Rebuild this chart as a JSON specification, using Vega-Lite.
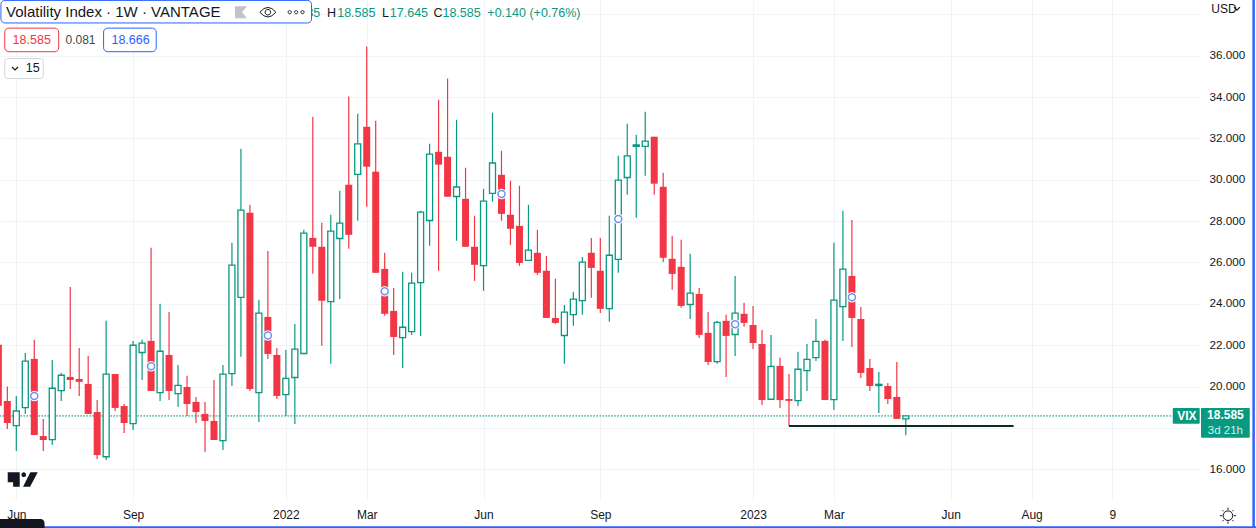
{
"$schema":"https://vega.github.io/schema/vega-lite/v6.json",
"width":1201,"height":501,
"autosize":{"type":"none"},
"padding":{"left":0,"top":0,"right":55,"bottom":27},
"background":"white",
"config":{"view":{"stroke":null},"font":"Liberation Sans","text":{"font":"Liberation Sans"}},
"datasets":{"candles":[
{"d":"2021-05-24","o":22.02,"h":22.02,"l":19.08,"c":19.08},
{"d":"2021-05-31","o":19.31,"h":20.0,"l":17.95,"c":18.24},
{"d":"2021-06-07","o":18.11,"h":19.55,"l":16.89,"c":18.82},
{"d":"2021-06-14","o":18.98,"h":21.63,"l":18.68,"c":21.23},
{"d":"2021-06-21","o":21.34,"h":22.26,"l":17.66,"c":17.66},
{"d":"2021-06-28","o":17.61,"h":18.44,"l":16.89,"c":17.42},
{"d":"2021-07-05","o":17.44,"h":21.29,"l":17.18,"c":19.92},
{"d":"2021-07-12","o":19.81,"h":20.66,"l":19.31,"c":20.55},
{"d":"2021-07-19","o":20.47,"h":24.82,"l":19.89,"c":20.32},
{"d":"2021-07-26","o":20.37,"h":21.87,"l":19.55,"c":20.23},
{"d":"2021-08-02","o":20.13,"h":21.48,"l":18.68,"c":18.68},
{"d":"2021-08-09","o":18.77,"h":19.35,"l":16.5,"c":16.69},
{"d":"2021-08-16","o":16.61,"h":23.18,"l":16.45,"c":20.6},
{"d":"2021-08-23","o":20.61,"h":20.61,"l":18.82,"c":18.97},
{"d":"2021-08-30","o":19.06,"h":19.16,"l":17.76,"c":18.24},
{"d":"2021-09-06","o":18.21,"h":22.21,"l":17.9,"c":22.0},
{"d":"2021-09-13","o":21.65,"h":22.26,"l":20.32,"c":22.1},
{"d":"2021-09-20","o":22.21,"h":26.71,"l":19.79,"c":19.79},
{"d":"2021-09-27","o":19.71,"h":24.0,"l":19.31,"c":21.71},
{"d":"2021-10-04","o":21.53,"h":23.61,"l":19.35,"c":19.79},
{"d":"2021-10-11","o":19.66,"h":21.05,"l":19.02,"c":20.06},
{"d":"2021-10-18","o":19.98,"h":20.52,"l":18.58,"c":19.16},
{"d":"2021-10-25","o":19.26,"h":19.5,"l":18.24,"c":18.77},
{"d":"2021-11-01","o":18.68,"h":19.26,"l":16.84,"c":18.34},
{"d":"2021-11-08","o":18.34,"h":20.32,"l":17.42,"c":17.42},
{"d":"2021-11-15","o":17.39,"h":21.05,"l":16.94,"c":20.6},
{"d":"2021-11-22","o":20.63,"h":26.95,"l":20.03,"c":25.87},
{"d":"2021-11-29","o":24.31,"h":31.5,"l":21.44,"c":28.53},
{"d":"2021-12-06","o":28.4,"h":28.79,"l":19.79,"c":19.89},
{"d":"2021-12-13","o":19.71,"h":24.19,"l":18.29,"c":23.55},
{"d":"2021-12-20","o":23.37,"h":26.56,"l":21.34,"c":21.58},
{"d":"2021-12-27","o":21.53,"h":21.87,"l":19.4,"c":19.55},
{"d":"2022-01-03","o":19.61,"h":21.77,"l":18.58,"c":20.4},
{"d":"2022-01-10","o":20.44,"h":23.03,"l":18.19,"c":21.81},
{"d":"2022-01-17","o":21.6,"h":27.58,"l":21.6,"c":27.42},
{"d":"2022-01-24","o":27.19,"h":33.05,"l":25.45,"c":26.76},
{"d":"2022-01-31","o":26.76,"h":27.92,"l":21.97,"c":24.15},
{"d":"2022-02-07","o":24.11,"h":28.31,"l":21.1,"c":27.52},
{"d":"2022-02-14","o":27.16,"h":29.47,"l":24.24,"c":27.9},
{"d":"2022-02-21","o":29.76,"h":34.02,"l":26.66,"c":27.34},
{"d":"2022-02-28","o":30.26,"h":33.19,"l":28.02,"c":31.73},
{"d":"2022-03-07","o":32.56,"h":36.44,"l":28.69,"c":30.63},
{"d":"2022-03-14","o":30.39,"h":32.85,"l":25.5,"c":25.5},
{"d":"2022-03-21","o":25.69,"h":26.47,"l":23.42,"c":23.52},
{"d":"2022-03-28","o":23.66,"h":24.77,"l":21.53,"c":22.4},
{"d":"2022-04-04","o":22.37,"h":25.55,"l":20.9,"c":22.87},
{"d":"2022-04-11","o":22.66,"h":25.5,"l":22.5,"c":25.0},
{"d":"2022-04-18","o":25.03,"h":28.5,"l":22.45,"c":28.44},
{"d":"2022-04-25","o":28.03,"h":31.74,"l":26.81,"c":31.24},
{"d":"2022-05-02","o":31.35,"h":33.87,"l":25.6,"c":30.73},
{"d":"2022-05-09","o":31.11,"h":34.89,"l":29.18,"c":29.18},
{"d":"2022-05-16","o":29.19,"h":32.9,"l":27.05,"c":29.65},
{"d":"2022-05-23","o":29.08,"h":30.58,"l":26.76,"c":26.76},
{"d":"2022-05-30","o":26.76,"h":28.26,"l":25.11,"c":25.89},
{"d":"2022-06-06","o":25.85,"h":29.56,"l":24.63,"c":28.97},
{"d":"2022-06-13","o":29.34,"h":33.24,"l":28.94,"c":30.81},
{"d":"2022-06-20","o":30.24,"h":31.4,"l":28.02,"c":28.35},
{"d":"2022-06-27","o":28.31,"h":29.95,"l":26.85,"c":27.63},
{"d":"2022-07-04","o":27.77,"h":29.71,"l":25.84,"c":25.98},
{"d":"2022-07-11","o":26.1,"h":28.79,"l":26.1,"c":26.6},
{"d":"2022-07-18","o":26.47,"h":27.58,"l":25.4,"c":25.5},
{"d":"2022-07-25","o":25.6,"h":26.32,"l":23.32,"c":23.32},
{"d":"2022-08-01","o":23.32,"h":25.21,"l":23.03,"c":23.08},
{"d":"2022-08-08","o":22.47,"h":23.95,"l":21.1,"c":23.6},
{"d":"2022-08-15","o":23.48,"h":24.58,"l":22.94,"c":24.23},
{"d":"2022-08-22","o":24.16,"h":26.27,"l":23.47,"c":26.02},
{"d":"2022-08-29","o":26.47,"h":27.19,"l":24.29,"c":25.74},
{"d":"2022-09-05","o":25.6,"h":27.19,"l":23.56,"c":23.76},
{"d":"2022-09-12","o":23.77,"h":28.26,"l":23.13,"c":26.35},
{"d":"2022-09-19","o":26.15,"h":31.16,"l":25.5,"c":29.98},
{"d":"2022-09-26","o":30.11,"h":32.71,"l":29.27,"c":31.15},
{"d":"2022-10-03","o":31.61,"h":32.18,"l":28.16,"c":31.68},
{"d":"2022-10-10","o":31.61,"h":33.29,"l":30.19,"c":31.87},
{"d":"2022-10-17","o":32.08,"h":32.08,"l":29.27,"c":29.81},
{"d":"2022-10-24","o":29.66,"h":30.34,"l":26.03,"c":26.23},
{"d":"2022-10-31","o":26.18,"h":27.29,"l":24.68,"c":25.45},
{"d":"2022-11-07","o":25.79,"h":27.1,"l":23.81,"c":23.9},
{"d":"2022-11-14","o":23.97,"h":26.42,"l":23.27,"c":24.52},
{"d":"2022-11-21","o":24.48,"h":24.77,"l":22.35,"c":22.5},
{"d":"2022-11-28","o":22.6,"h":23.61,"l":21.05,"c":21.19},
{"d":"2022-12-05","o":21.21,"h":23.18,"l":21.1,"c":23.11},
{"d":"2022-12-12","o":23.18,"h":23.47,"l":20.47,"c":22.45},
{"d":"2022-12-19","o":22.52,"h":25.35,"l":21.48,"c":23.55},
{"d":"2022-12-26","o":23.52,"h":24.05,"l":22.89,"c":23.08},
{"d":"2023-01-02","o":22.98,"h":23.9,"l":21.82,"c":22.11},
{"d":"2023-01-09","o":22.06,"h":22.74,"l":19.11,"c":19.35},
{"d":"2023-01-16","o":19.39,"h":22.5,"l":19.39,"c":20.98},
{"d":"2023-01-23","o":21.0,"h":21.39,"l":18.97,"c":19.35},
{"d":"2023-01-30","o":19.4,"h":20.61,"l":18.1,"c":19.31},
{"d":"2023-02-06","o":19.32,"h":21.68,"l":19.06,"c":20.84},
{"d":"2023-02-13","o":20.77,"h":22.06,"l":19.79,"c":21.32},
{"d":"2023-02-20","o":21.4,"h":23.27,"l":21.24,"c":22.19},
{"d":"2023-02-27","o":22.21,"h":22.26,"l":19.35,"c":19.35},
{"d":"2023-03-06","o":19.37,"h":26.95,"l":18.87,"c":24.18},
{"d":"2023-03-13","o":23.87,"h":28.5,"l":22.21,"c":25.68},
{"d":"2023-03-20","o":25.35,"h":28.06,"l":21.92,"c":23.32},
{"d":"2023-03-27","o":23.27,"h":23.85,"l":20.42,"c":20.66},
{"d":"2023-04-03","o":20.9,"h":21.34,"l":19.79,"c":20.03},
{"d":"2023-04-10","o":20.05,"h":20.71,"l":18.73,"c":20.11},
{"d":"2023-04-17","o":20.03,"h":20.18,"l":19.16,"c":19.4},
{"d":"2023-04-24","o":19.5,"h":21.19,"l":18.44,"c":18.44},
{"d":"2023-05-01","o":18.445,"h":18.585,"l":17.645,"c":18.585}
]},
"encoding":{
"x":{"field":"d","type":"temporal","title":null,
"scale":{"type":"utc","domain":["2021-05-25T07:00:00Z","2023-12-17T00:00:00Z"],"nice":false,"padding":0},
"axis":{"values":["2021-06-07","2021-09-06","2022-01-03","2022-03-07","2022-06-06","2022-09-05","2023-01-02","2023-03-06","2023-06-05","2023-08-07","2023-10-09"],
"labelExpr":"utcmonth(datum.value)==0 ? ''+utcyear(datum.value) : utcmonth(datum.value)==9 ? ''+utcdate(datum.value) : utcFormat(datum.value,'%b')",
"domain":false,"ticks":false,"grid":true,"gridColor":"#f2f3f6","gridWidth":1,"labelColor":"#131722","labelFontSize":12,"labelPadding":8,"labelOverlap":false,"labelBound":false,"labelFlush":false,"labelAngle":0}},
"y":{"field":"v","type":"quantitative","title":null,
"scale":{"domain":[14.47,38.69],"nice":false,"zero":false},
"axis":{"orient":"right","values":[16,18,20,22,24,26,28,30,32,34,36,38],
"labelExpr":"datum.value==38 ? '' : format(datum.value,'.3f')",
"domain":false,"ticks":false,"grid":true,"gridColor":"#f2f3f6","gridWidth":1,"labelColor":"#131722","labelFontSize":11.7,"labelPadding":8,"labelOffset":-1,"labelOverlap":false,"labelBound":false,"labelFlush":false}}
},
"layer":[
{"data":{"values":[{"d":"2021-05-25","d2":"2023-11-25","v":18.585}]},"mark":{"type":"rule","color":"#089981","strokeWidth":1.6,"strokeDash":[1,2]},"encoding":{"x2":{"field":"d2"}}},
{"data":{"name":"candles"},"mark":{"type":"rule","strokeWidth":1.2},
 "encoding":{"y":{"field":"l","type":"quantitative","scale":{"domain":[14.47,38.69],"nice":false,"zero":false},"title":null},"y2":{"field":"h"},
 "color":{"condition":{"test":"datum.c>=datum.o","value":"#089981"},"value":"#f23645"}}},
{"data":{"name":"candles"},"transform":[{"filter":"datum.c>=datum.o"}],"mark":{"type":"bar","orient":"vertical","width":6,"fill":"white","stroke":"#089981","strokeWidth":1.3},
 "encoding":{"y":{"field":"o","type":"quantitative","scale":{"domain":[14.47,38.69],"nice":false,"zero":false},"title":null},"y2":{"field":"c"}}},
{"data":{"name":"candles"},"transform":[{"filter":"datum.c<datum.o"}],"mark":{"type":"bar","orient":"vertical","width":7,"fill":"#f23645"},
 "encoding":{"y":{"field":"o","type":"quantitative","scale":{"domain":[14.47,38.69],"nice":false,"zero":false},"title":null},"y2":{"field":"c"}}},
{"data":{"values":[{"d":"2023-01-30","d2":"2023-07-24","v":18.09}]},"mark":{"type":"rule","color":"#0a2e26","strokeWidth":2},"encoding":{"x2":{"field":"d2"}}},
{"data":{"values":[{"d":"2021-06-21","v":19.55},{"d":"2021-09-20","v":20.98},{"d":"2021-12-20","v":22.47},{"d":"2022-03-21","v":24.61},{"d":"2022-06-20","v":29.31},{"d":"2022-09-19","v":28.1},{"d":"2022-12-19","v":23.02},{"d":"2023-03-20","v":24.32}]},
 "layer":[{"mark":{"type":"point","shape":"circle","filled":true,"fill":"white","size":110,"opacity":1}},
 {"mark":{"type":"point","shape":"circle","filled":false,"fill":"white","fillOpacity":1,"stroke":"#6f92f2","strokeWidth":1.5,"size":49,"opacity":1}}]},

{"data":{"values":[{"d":"2023-11-25","d2":"2023-12-16","v":18.96,"v2":18.2},{"d":"2023-12-17","d2":"2024-01-24","v":18.96,"v2":17.53}]},"mark":{"type":"rect","fill":"#089981","cornerRadius":1},"encoding":{"x2":{"field":"d2"},"y2":{"field":"v2"}}},
{"data":{"values":[{"d":"2023-12-06","v":18.58,"t":"VIX"},{"d":"2024-01-05","v":18.62,"t":"18.585"}]},"mark":{"type":"text","color":"white","fontSize":12,"fontWeight":"bold","align":"center","baseline":"middle"},"encoding":{"text":{"field":"t"}}},
{"data":{"values":[{"d":"2024-01-05","v":17.86,"t":"3d 21h"}]},"mark":{"type":"text","color":"#d6efe9","fontSize":11.5,"align":"center","baseline":"middle"},"encoding":{"text":{"field":"t"}}},

{"data":{"values":[{"d":"2022-01-19","v":38.06,"t":"35"},{"d":"2022-02-12","v":38.06,"t":"18.585"},{"d":"2022-03-25","v":38.06,"t":"17.645"},{"d":"2022-05-05","v":38.06,"t":"18.585"},{"d":"2022-06-09","v":38.06,"t":"+0.140 (+0.76%)"}]},"mark":{"type":"text","color":"#089981","fontSize":12.5,"align":"left","baseline":"middle"},"encoding":{"text":{"field":"t"}}},
{"data":{"values":[{"d":"2022-02-04","v":38.06,"t":"H"},{"d":"2022-03-19","v":38.06,"t":"L"},{"d":"2022-04-28","v":38.06,"t":"C"}]},"mark":{"type":"text","color":"#131722","fontSize":12.5,"align":"left","baseline":"middle"},"encoding":{"text":{"field":"t"}}},

{"data":{"values":[{"d":"2021-05-26","d2":"2022-01-23","v":38.67,"v2":37.58}]},"mark":{"type":"rect","fill":"white","stroke":"#2962ff","strokeWidth":1,"cornerRadius":4},"encoding":{"x2":{"field":"d2"},"y2":{"field":"v2"}}},
{"data":{"values":[{"d":"2021-05-30","v":38.1,"t":"Volatility Index · 1W · VANTAGE"}]},"mark":{"type":"text","color":"#131722","fontSize":15,"align":"left","baseline":"middle"},"encoding":{"text":{"field":"t"}}},
{"data":{"values":[{"d":"2021-11-29","v":38.1}]},"mark":{"type":"point","shape":"M-1,-1H1L.2,0L1,1H-1Z","filled":true,"fill":"#c1c4cd","size":144,"opacity":1}},
{"data":{"values":[{"d":"2021-12-20","v":38.1}]},"mark":{"type":"point","shape":"M-1,0Q0,-1.2 1,0Q0,1.2 -1,0ZM-.35,0a.35,.35 0 1,0 .7,0a.35,.35 0 1,0 -.7,0Z","filled":false,"stroke":"#131722","strokeWidth":1,"size":256,"opacity":1}},
{"data":{"values":[{"d":"2022-01-11","v":38.1}]},"mark":{"type":"point","shape":"M-1,0a.2,.2 0 1,0 .4,0a.2,.2 0 1,0 -.4,0ZM-.2,0a.2,.2 0 1,0 .4,0a.2,.2 0 1,0 -.4,0ZM.6,0a.2,.2 0 1,0 .4,0a.2,.2 0 1,0 -.4,0Z","filled":false,"stroke":"#131722","strokeWidth":1,"size":256,"opacity":1}},

{"data":{"values":[{"d":"2021-05-29","d2":"2021-07-10","v":37.33,"v2":36.19}]},"mark":{"type":"rect","fill":"white","stroke":"#f23645","strokeWidth":1,"cornerRadius":4},"encoding":{"x2":{"field":"d2"},"y2":{"field":"v2"}}},
{"data":{"values":[{"d":"2021-08-14","d2":"2021-09-24","v":37.33,"v2":36.19}]},"mark":{"type":"rect","fill":"white","stroke":"#2962ff","strokeWidth":1,"cornerRadius":4},"encoding":{"x2":{"field":"d2"},"y2":{"field":"v2"}}},
{"data":{"values":[{"d":"2021-05-29","d2":"2021-06-28","v":35.86,"v2":34.89}]},"mark":{"type":"rect","fill":"white","stroke":"#d1d4dc","strokeWidth":1,"cornerRadius":3},"encoding":{"x2":{"field":"d2"},"y2":{"field":"v2"}}},
{"data":{"values":[{"d":"2021-06-19","v":36.76,"t":"18.585"}]},"mark":{"type":"text","color":"#f23645","fontSize":12.5,"align":"center","baseline":"middle"},"encoding":{"text":{"field":"t"}}},
{"data":{"values":[{"d":"2021-07-27","v":36.76,"t":"0.081"}]},"mark":{"type":"text","color":"#434651","fontSize":12,"align":"center","baseline":"middle"},"encoding":{"text":{"field":"t"}}},
{"data":{"values":[{"d":"2021-09-04","v":36.76,"t":"18.666"}]},"mark":{"type":"text","color":"#2962ff","fontSize":12.5,"align":"center","baseline":"middle"},"encoding":{"text":{"field":"t"}}},
{"data":{"values":[{"d":"2021-06-19","v":35.38,"t":"15"}]},"mark":{"type":"text","color":"#131722","fontSize":12.5,"align":"left","dx":-6,"baseline":"middle"},"encoding":{"text":{"field":"t"}}},
{"data":{"values":[{"d":"2021-06-06","v":35.38},{"d":"2024-01-14","v":38.27}]},"mark":{"type":"point","shape":"M-1,-.5L0,.5L1,-.5","filled":false,"stroke":"#131722","strokeWidth":1.2,"size":36,"opacity":1}},
{"data":{"values":[{"d":"2023-12-25","v":38.27,"t":"USD"}]},"mark":{"type":"text","color":"#131722","fontSize":12,"align":"left","baseline":"middle"},"encoding":{"text":{"field":"t"}}},
{"data":{"values":[{"d":"2021-06-12","v":15.51}]},"mark":{"type":"point","shape":"M-1,-.478H-.2V.478H-.64V.189H-1ZM-.088,-.322a.155,.155 0 1,0 .31,0a.155,.155 0 1,0 -.31,0ZM.511,-.478H1L.49,.478H.022Z","filled":true,"fill":"#131722","size":900,"opacity":1}},
{"data":{"values":[{"d":"2024-01-07","v":13.76}]},"mark":{"type":"point","shape":"M-.6,0a.6,.6 0 1,0 1.2,0a.6,.6 0 1,0 -1.2,0M0,-1V-.72M0,.72V1M-1,0H-.72M.72,0H1M-.7,-.7L-.55,-.55M.55,-.55L.7,-.7M-.7,.7L-.55,.55M.55,.55L.7,.7","filled":false,"stroke":"#131722","strokeWidth":1,"size":256,"opacity":1}},
{"data":{"values":[{"d":"2021-05-25","d2":"2024-01-29","v":13.2}]},"mark":{"type":"rule","color":"#2962ff","strokeWidth":2},"encoding":{"x2":{"field":"d2"}}},
{"data":{"values":[{"d":"2024-01-27","v":38.9,"v2":13.15}]},"mark":{"type":"rule","color":"#2962ff","strokeWidth":2.5},"encoding":{"y2":{"field":"v2"}}},
{"data":{"values":[{"d":"2021-05-25","d2":"2021-06-29","v":13.6,"v2":13.1}]},"mark":{"type":"rect","fill":"#131722","cornerRadiusTopRight":4},"encoding":{"x2":{"field":"d2"},"y2":{"field":"v2"}}}
]
}
